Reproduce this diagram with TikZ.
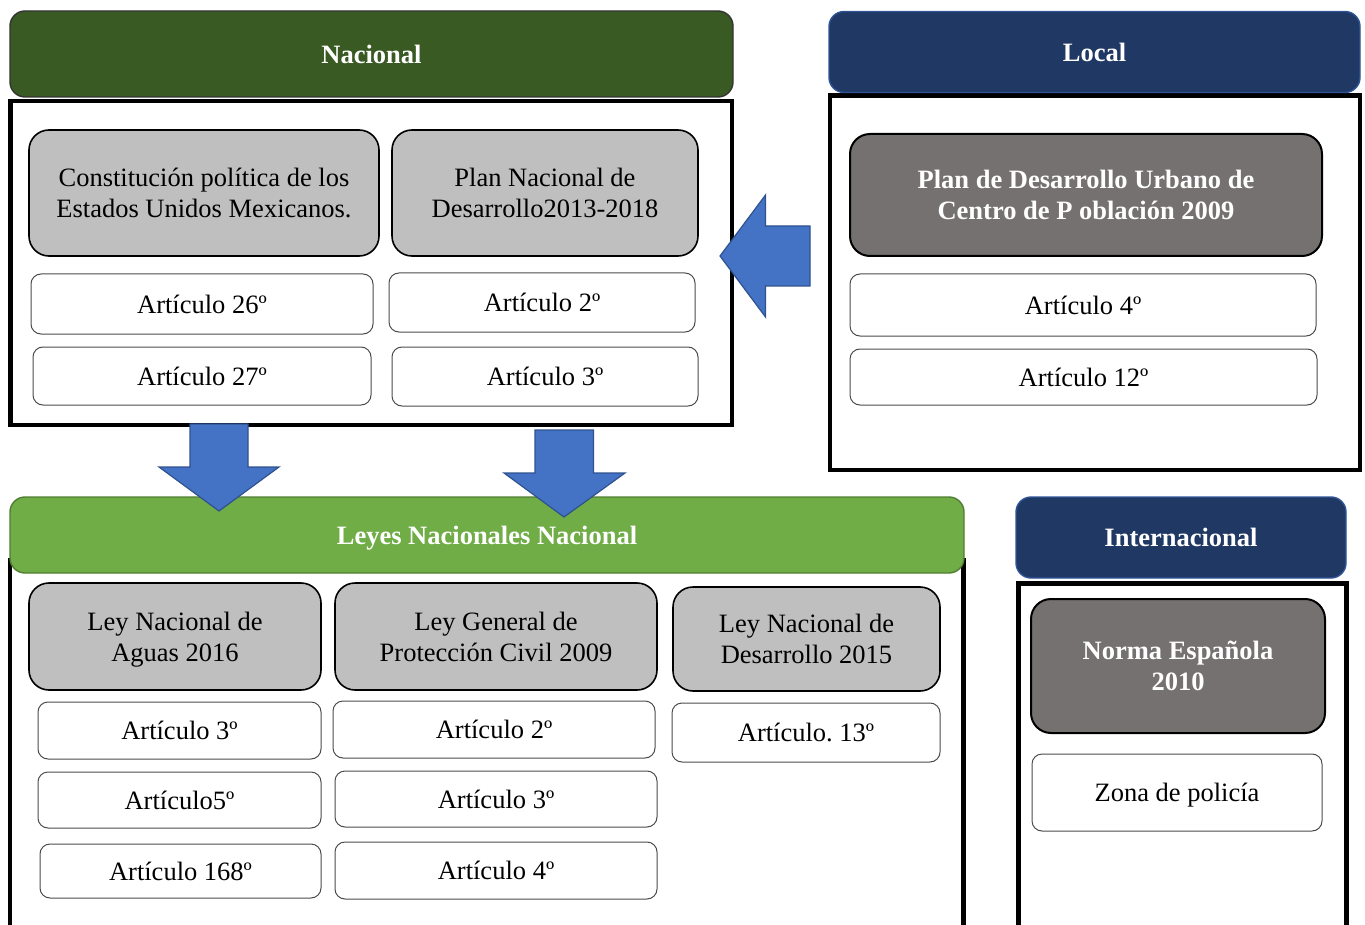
\documentclass[tikz,border=0pt]{standalone}
\usepackage{fontspec}
\setmainfont{Liberation Serif}
\definecolor{nacgreen}{HTML}{3A5A24}
\definecolor{leygreen}{HTML}{70AD47}
\definecolor{leyedge}{HTML}{507E32}
\definecolor{navy}{HTML}{203864}
\definecolor{navyedge}{HTML}{2F5597}
\definecolor{lawgray}{HTML}{BFBFBF}
\definecolor{darkgray}{HTML}{767171}
\definecolor{arrowblue}{HTML}{4472C4}
\definecolor{arrowedge}{HTML}{2F528F}
\begin{document}
\frenchspacing
\begin{tikzpicture}[x=0.5pt,y=-0.5pt,
    every node/.style={font=\fontsize{13.25}{15.5}\selectfont, align=center, inner sep=0pt, text depth=0pt},
    head/.style={rounded corners=7.5pt, text=white, font=\fontsize{13.25}{15.5}\selectfont\bfseries, line width=0.7pt},
    frame/.style={draw=black, line width=2.3pt},
    law/.style={draw=black, fill=lawgray, rounded corners=10pt, line width=0.8pt},
    dark/.style={draw=black, fill=darkgray, rounded corners=10pt, line width=1pt, text=white, font=\fontsize{13.25}{15.5}\selectfont\bfseries},
    art/.style={draw=black!70, fill=white, rounded corners=5pt, line width=0.5pt},
    blockarrow/.style={draw=arrowedge, fill=arrowblue, line width=0.6pt, line join=miter}]
  \useasboundingbox (0,0) rectangle (1365,925);
  % frames
  \draw[frame] (10.3,101) rectangle (732,425);
  \draw[frame] (830,95.5) rectangle (1360,470);
  \begin{scope}
    \clip (0,0) rectangle (1365,925);
    \draw[frame] (10,945) -- (10,560) -- (963.5,560) -- (963.5,945);
    \draw[frame] (1018.5,945) -- (1018.5,583.5) -- (1346.5,583.5) -- (1346.5,945);
  \end{scope}
  % headers
  \node[head, draw=black!80, fill=nacgreen, minimum width=361.5pt, minimum height=43pt] (nac) at (371.5,54) {Nacional};
  \node[head, draw=navyedge, fill=navy, minimum width=265.5pt, minimum height=40.5pt] (loc) at (1094.5,52) {Local};
  \node[head, draw=leyedge, fill=leygreen, minimum width=477pt, minimum height=38pt] (ley) at (487,535) {Leyes Nacionales Nacional};
  \node[head, draw=navyedge, fill=navy, minimum width=165pt, minimum height=40.5pt] (int) at (1181,537.5) {Internacional};
  % nacional
  \node[law, minimum width=175pt, minimum height=63pt] (con) at (204,193) {Constitución política de los\\Estados Unidos Mexicanos.};
  \node[law, minimum width=153pt, minimum height=63pt] (pnd) at (545,193) {Plan Nacional de\\Desarrollo2013-2018};
  \node[art, minimum width=171pt, minimum height=30pt] (a26) at (202,304) {Artículo 26º};
  \node[art, minimum width=169pt, minimum height=29pt] (a27) at (202,376) {Artículo 27º};
  \node[art, minimum width=153pt, minimum height=29.5pt] (a2) at (542,302.5) {Artículo 2º};
  \node[art, minimum width=153pt, minimum height=29.5pt] (a3) at (545,376.5) {Artículo 3º};
  % local
  \node[dark, minimum width=236pt, minimum height=61pt] (pdu) at (1086,195) {Plan de Desarrollo Urbano de\\Centro de P oblación 2009};
  \node[art, minimum width=233pt, minimum height=31pt] (a4) at (1083,305) {Artículo 4º};
  \node[art, minimum width=233.5pt, minimum height=28pt] (a12) at (1083.5,377) {Artículo 12º};
  % leyes nacionales
  \node[law, minimum width=146pt, minimum height=53.5pt] (lna) at (175,636.5) {Ley Nacional de\\Aguas 2016};
  \node[law, minimum width=161pt, minimum height=53.5pt] (lgp) at (496,636.5) {Ley General de\\Protección Civil 2009};
  \node[law, minimum width=133.5pt, minimum height=52pt] (lnd) at (806.5,639) {Ley Nacional de\\Desarrollo 2015};
  \node[art, minimum width=141.5pt, minimum height=28.5pt] (b3) at (179.5,730.5) {Artículo 3º};
  \node[art, minimum width=141.5pt, minimum height=28pt] (b5) at (179.5,800) {Artículo5º};
  \node[art, minimum width=140.5pt, minimum height=27pt] (b168) at (180.5,871) {Artículo 168º};
  \node[art, minimum width=161pt, minimum height=28.5pt] (c2) at (494,729.5) {Artículo 2º};
  \node[art, minimum width=161pt, minimum height=28pt] (c3) at (496,799) {Artículo 3º};
  \node[art, minimum width=161pt, minimum height=28.5pt] (c4) at (496,870.5) {Artículo 4º};
  \node[art, minimum width=134pt, minimum height=29.5pt] (d13) at (806,732.5) {Artículo. 13º};
  % internacional
  \node[dark, minimum width=147pt, minimum height=67pt] (nes) at (1178,666) {Norma Española\\2010};
  \node[art, minimum width=145pt, minimum height=38.5pt] (zp) at (1177,792.5) {Zona de policía};
  % arrows
  \draw[blockarrow] (720,256) -- (765.5,195) -- (765.5,226) -- (810,226) -- (810,286) -- (765.5,286) -- (765.5,317) -- cycle;
  \draw[blockarrow] (190,424) -- (248,424) -- (248,467) -- (279,467) -- (219,511) -- (159,467) -- (190,467) -- cycle;
  \draw[blockarrow] (535,430) -- (593.5,430) -- (593.5,473) -- (625,473) -- (564,517) -- (504,473) -- (535,473) -- cycle;
\end{tikzpicture}
\end{document}
